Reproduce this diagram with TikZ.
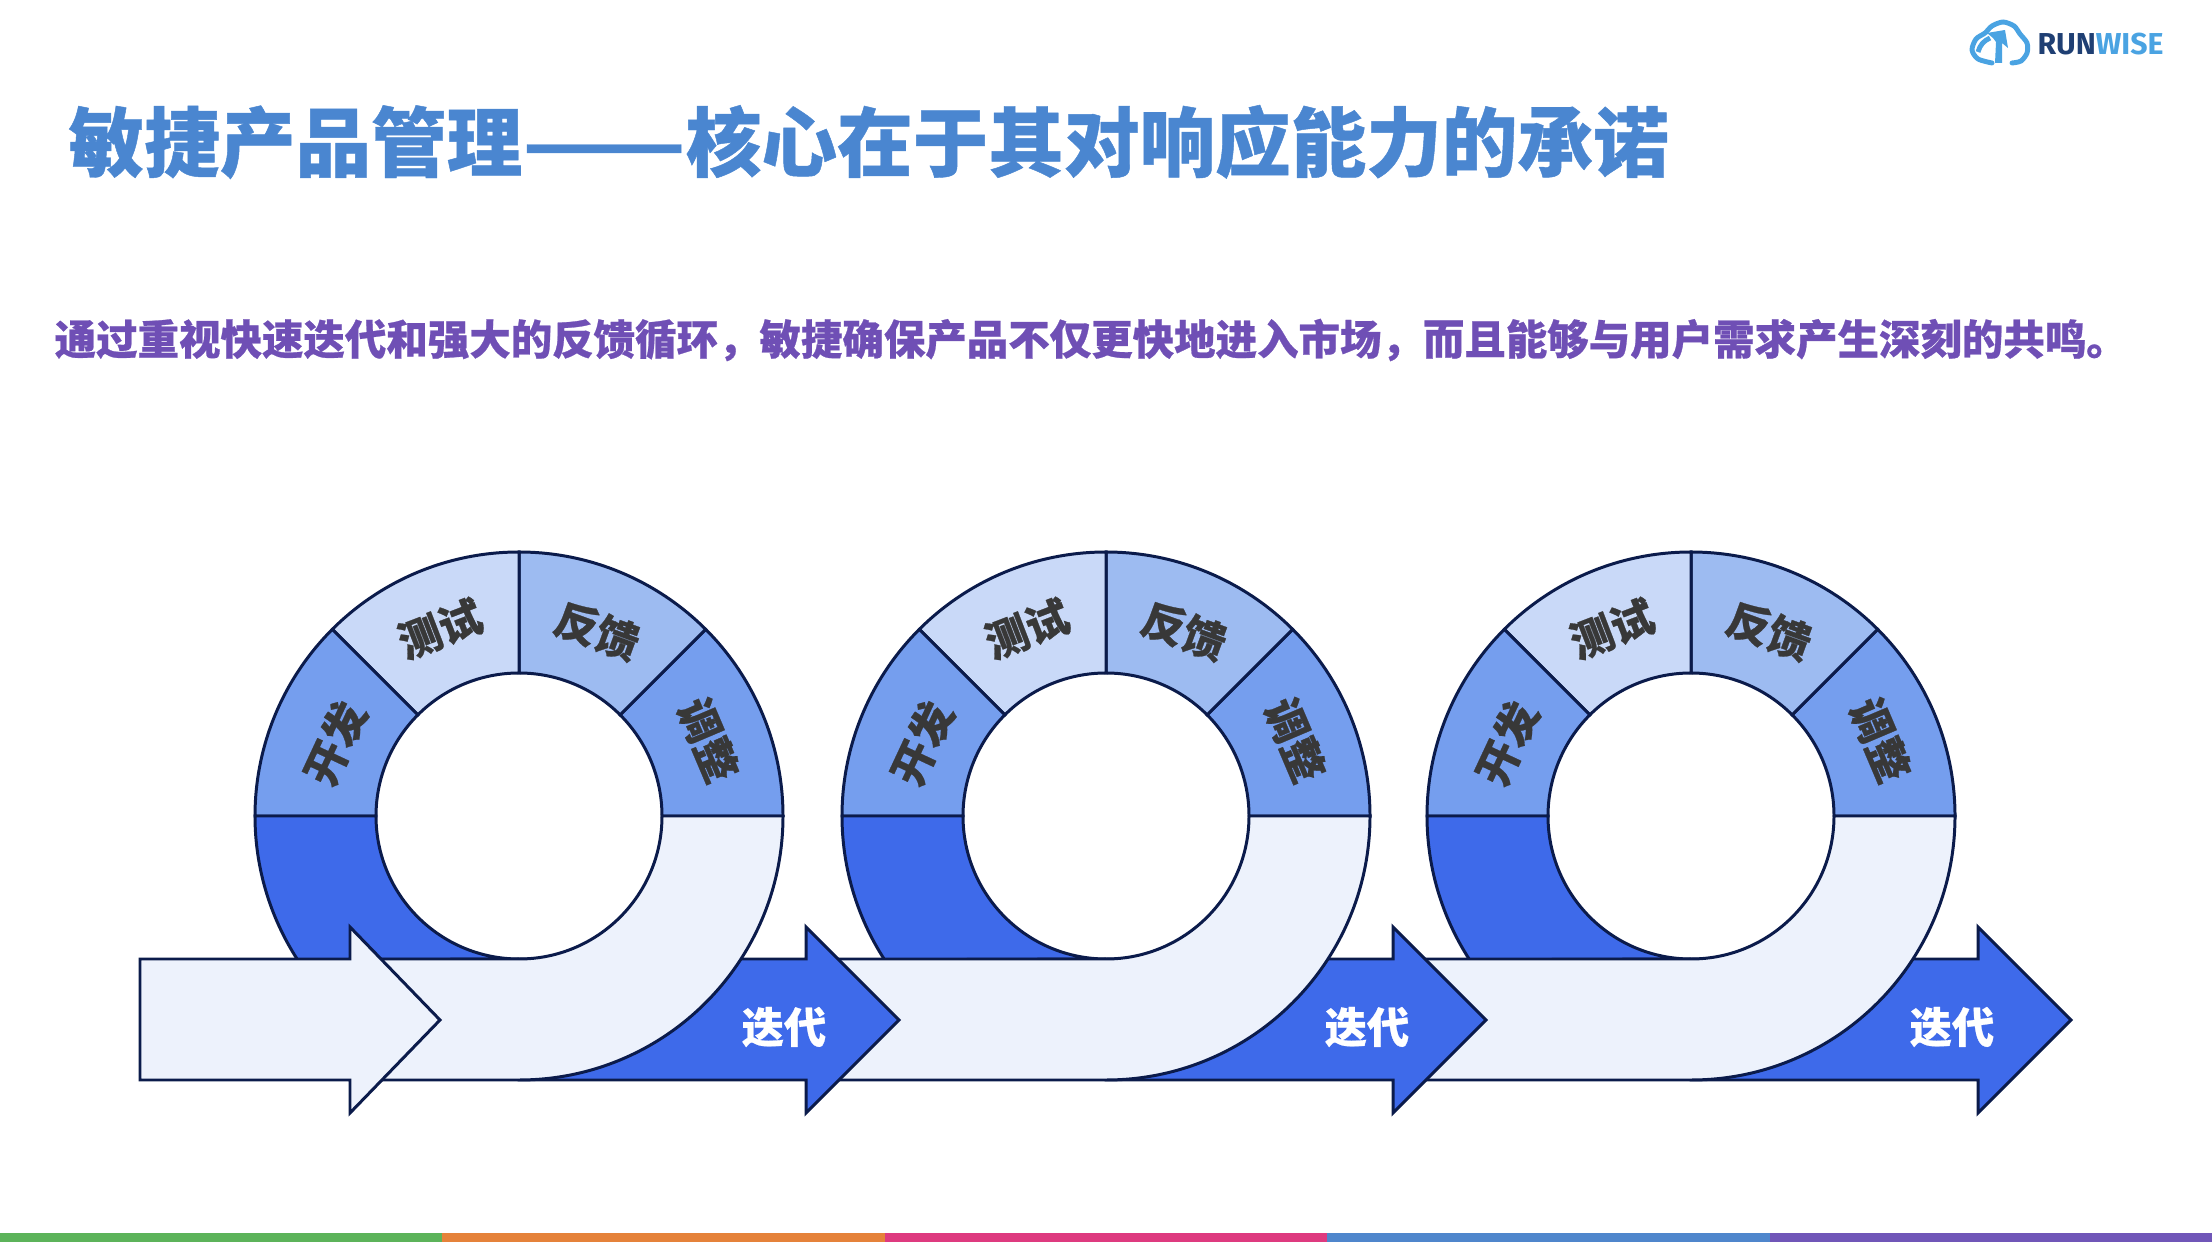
\documentclass[tikz,border=0pt]{standalone}
\usepackage{fontspec}
\setmainfont{Noto Sans CJK SC}[BoldFeatures={FakeBold=0.6}]
\newfontfamily\logofont{Fira Sans}
\definecolor{edgeblue}{HTML}{0B1B4B}
\definecolor{deepblue}{HTML}{3E6AEA}
\definecolor{midblue}{HTML}{759EEE}
\definecolor{softblue}{HTML}{9DBBF1}
\definecolor{paleblue}{HTML}{C9D9F8}
\definecolor{bandblue}{HTML}{EDF2FC}
\definecolor{titleblue}{HTML}{4A86D0}
\definecolor{leadpurple}{HTML}{6F4FB5}
\definecolor{cloudblue}{HTML}{4AA3E2}
\definecolor{runnavy}{HTML}{1F3F73}
\definecolor{bargreen}{HTML}{5CB35A}
\definecolor{barorange}{HTML}{E5823A}
\definecolor{barpink}{HTML}{DE3A7F}
\definecolor{barblue}{HTML}{4F86CC}
\definecolor{barpurple}{HTML}{7056B8}
\tikzset{
  shapeline/.style={draw=edgeblue,line width=0.85pt,line join=miter},
  ringlabel/.style={font=\fontsize{12.2}{14}\selectfont\bfseries,text=black!78},
  iterlabel/.style={font=\fontsize{12}{14}\selectfont\bfseries,text=white},
}
\begin{document}
\begin{tikzpicture}[x=0.01cm,y=0.01cm]
    \useasboundingbox (0,0) rectangle (2212,1242);
    \node[anchor=west,text=titleblue,font=\fontsize{21.5}{26}\selectfont\bfseries,inner sep=0] (title) at (68,1100) {敏捷产品管理\scalebox{1.26}[1]{——}核心在于其对响应能力的承诺};
    \node[anchor=west,text=leadpurple,font=\fontsize{11.79}{14}\selectfont\bfseries,inner sep=0] (lead) at (54,902) {通过重视快速迭代和强大的反馈循环，敏捷确保产品不仅更快地进入市场，而且能够与用户需求产生深刻的共鸣。};

    \foreach \cx/\bx/\ix in {1691/1410/261,1106/825/261,519/368/265} {
      \begin{scope}[shift={(\cx,426)}]
        \foreach \sa/\sb/\sc in {0/45/midblue,45/90/softblue,90/135/paleblue,135/180/midblue} {
          \filldraw[shapeline,fill=\sc] (\sa:143) -- (\sa:264) arc[start angle=\sa,end angle=\sb,radius=264] -- (\sb:143) arc[start angle=\sb,end angle=\sa,radius=143] -- cycle;
        }
        \node[ringlabel,rotate=65] (dev\cx) at (158.4:198) {开发};
        \node[ringlabel,rotate=21] (test\cx) at (112.9:203) {测试};
        \node[ringlabel,rotate=-20] (back\cx) at (67.1:201) {反馈};
        \node[ringlabel,rotate=-67] (adj\cx) at (21.9:204) {调整};
        \filldraw[shapeline,fill=deepblue] (180:264) arc[start angle=180,end angle=213,radius=264] -- (0,-143) arc[start angle=270,end angle=180,radius=143] -- cycle;
        \filldraw[shapeline,fill=deepblue] (0,-143) -- (287,-143) -- (287,-111) -- (380,-204) -- (287,-297) -- (287,-264) -- (0,-264) -- cycle;
        \filldraw[shapeline,fill=bandblue] (\bx-\cx,-143) -- (0,-143) arc[start angle=270,end angle=360,radius=143] -- (264,0) arc[start angle=0,end angle=-90,radius=264] -- (\bx-\cx,-264) -- cycle;
        \node[iterlabel] (iter\cx) at (\ix,-211) {迭代};
      \end{scope}
    }
    \filldraw[shapeline,fill=bandblue] (140,283) -- (350,283) -- (350,315) -- (440,222) -- (350,129) -- (350,162) -- (140,162) -- cycle;

    \draw[cloudblue,line width=1.4pt,line cap=round] plot[smooth] coordinates {(1992,1179) (1978,1183) (1972,1192) (1976,1203) (1985,1209) (1992,1216) (2003,1220) (2014,1216) (2020,1208) (2027,1199) (2027,1189) (2021,1181) (2012,1179)};
    \draw[cloudblue,line width=1.4pt] (1978,1190) to[bend left=25] (1990,1204);
    \fill[cloudblue] (1995,1179) -- (2002,1179) -- (2002,1199) -- (2008,1194) -- (2005,1212) -- (1987,1209) -- (1993,1204) -- (1996,1200) -- cycle;
    \node[anchor=west,inner sep=0,font=\logofont\fontsize{8.6}{10}\selectfont\bfseries,text=runnavy] (logo) at (2037,1198) {RUN\textcolor{cloudblue}{WISE}};

    \fill[bargreen] (0,0) rectangle (442.4,9);
    \fill[barorange] (442.4,0) rectangle (884.8,9);
    \fill[barpink] (884.8,0) rectangle (1327.2,9);
    \fill[barblue] (1327.2,0) rectangle (1769.6,9);
    \fill[barpurple] (1769.6,0) rectangle (2212,9);
  \end{tikzpicture}
\end{document}
